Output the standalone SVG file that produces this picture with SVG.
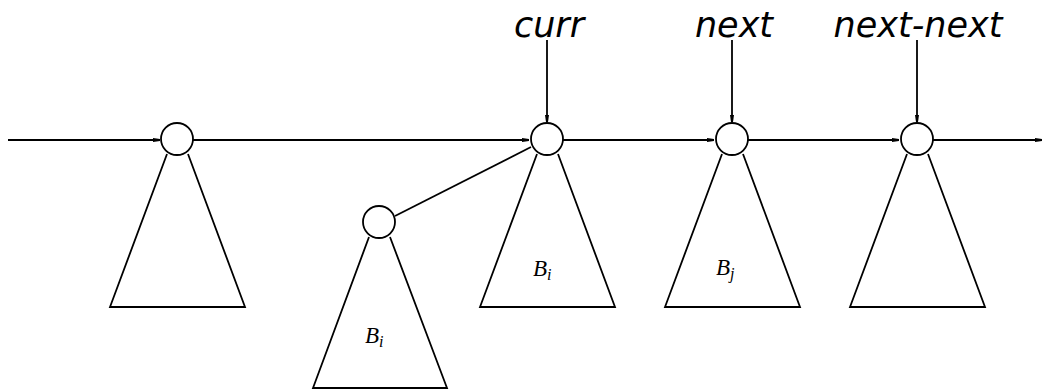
<svg xmlns="http://www.w3.org/2000/svg" width="1044" height="392" viewBox="0 0 1044 392">
<style>
.ln{stroke:#000;stroke-width:1.8;fill:none}
.nd{stroke:#000;stroke-width:1.8;fill:#fff}
.lbl{font-family:"DejaVu Sans",sans-serif;font-style:italic;font-size:35px;fill:#000}
.math{font-family:"Liberation Serif",serif;font-style:italic;font-size:23px;fill:#000}
.sub{font-size:16px}
</style>
<defs>
<marker id="ah" markerWidth="8" markerHeight="6" refX="7" refY="3" orient="auto" markerUnits="userSpaceOnUse">
<path d="M0,1 L7,2 L7,4 L0,5 Z" fill="#000"/>
</marker>
</defs>
<g id="connectors">
<line class="ln" x1="8" y1="140" x2="160" y2="140" marker-end="url(#ah)"/>
<line class="ln" x1="193" y1="140" x2="529" y2="140" marker-end="url(#ah)"/>
<line class="ln" x1="563" y1="140" x2="714" y2="140" marker-end="url(#ah)"/>
<line class="ln" x1="748" y1="140" x2="899" y2="140" marker-end="url(#ah)"/>
<line class="ln" x1="933" y1="140" x2="1042" y2="140" marker-end="url(#ah)"/>
<line class="ln" x1="395" y1="216" x2="531" y2="147"/>
<line class="ln" x1="547" y1="40" x2="547" y2="122" marker-end="url(#ah)"/>
<line class="ln" x1="732" y1="40" x2="732" y2="122" marker-end="url(#ah)"/>
<line class="ln" x1="917" y1="40" x2="917" y2="122" marker-end="url(#ah)"/>
</g>
<g id="labels">
<text class="lbl" x="549" y="37" text-anchor="middle">curr</text>
<text class="lbl" x="734" y="37" text-anchor="middle">next</text>
<text class="lbl" x="918" y="37" text-anchor="middle">next-next</text>
</g>
<g id="node1">
<path class="ln" d="M167,154 L110,307 L245,307 L188,154"/>
<circle class="nd" cx="177" cy="139" r="16"/>
</g>
<g id="node-curr">
<path class="ln" d="M537,154 L480,307 L615,307 L558,154"/>
<circle class="nd" cx="547" cy="139" r="16"/>
<text class="math" x="533" y="276">B<tspan class="sub" dy="4">i</tspan></text>
</g>
<g id="node-next">
<path class="ln" d="M722,154 L665,307 L800,307 L743,154"/>
<circle class="nd" cx="732" cy="139" r="16"/>
<text class="math" x="716" y="275">B<tspan class="sub" dy="4">j</tspan></text>
</g>
<g id="node-nextnext">
<path class="ln" d="M907,154 L850,307 L985,307 L928,154"/>
<circle class="nd" cx="917" cy="139" r="16"/>
</g>
<g id="node-small">
<path class="ln" d="M369,237 L313,388 L447,388 L390,237"/>
<circle class="nd" cx="379" cy="222" r="16"/>
<text class="math" x="365" y="343">B<tspan class="sub" dy="4">i</tspan></text>
</g>
</svg>
